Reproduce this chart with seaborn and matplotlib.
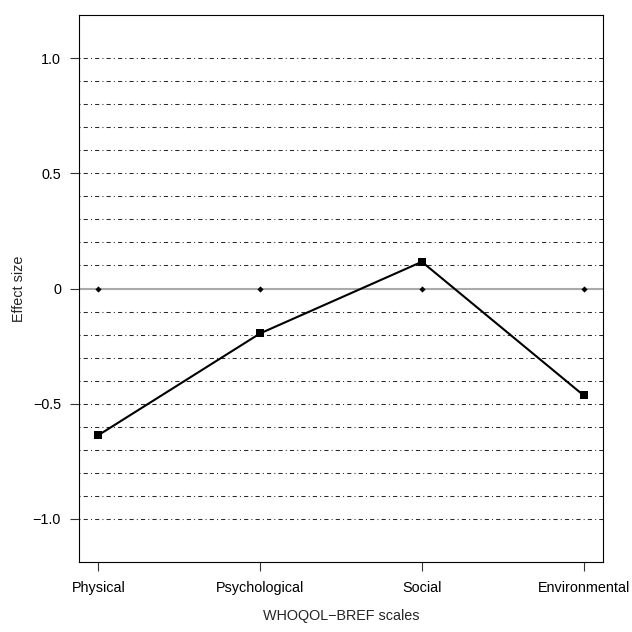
import numpy as np
import pandas as pd
import matplotlib
matplotlib.use('Agg')
import matplotlib.pyplot as plt
import seaborn as sns

# values
scales = ['Physical', 'Psychological', 'Social', 'Environmental']
effect_size = [-0.637, -0.195, 0.116, -0.464]
reference_level = [0, 0, 0, 0]
grid_levels = [-1.0, -0.9, -0.8, -0.7, -0.6, -0.5, -0.4, -0.3, -0.2, -0.1,
               0.1, 0.2, 0.3, 0.4, 0.5, 0.6, 0.7, 0.8, 0.9, 1.0]
y_ticks = [-1.0, -0.5, 0, 0.5, 1.0]
y_tick_labels = ['\u22121.0', '\u22120.5', '0', '0.5', '1.0']

sns.set_style('white')
plt.rcParams['font.family'] = ['Liberation Sans', 'DejaVu Sans']
plt.rcParams['axes.unicode_minus'] = True


def main():
    df = pd.DataFrame({
        'pos': np.arange(1, len(scales) + 1),
        'scale': scales,
        'effect': effect_size,
        'ref': reference_level,
    })

    fig = plt.figure(figsize=(6.32, 6.32), dpi=100)
    ax = fig.add_axes([79 / 632, 1 - 562 / 632, 524 / 632, 547 / 632])

    # dot-dash reference grid
    for lv in grid_levels:
        ax.axhline(lv, color='#2a2a2a', lw=0.75, linestyle=(0, (1, 3, 4, 3)), zorder=1)
    ax.axhline(0, color='#aaaaaa', lw=1.5, zorder=2)

    sns.scatterplot(data=df, x='pos', y='ref', marker='D', s=10, color='black',
                    edgecolor='black', linewidth=0, ax=ax, zorder=3)
    sns.lineplot(data=df, x='pos', y='effect', color='black', lw=1.5,
                 marker='s', markersize=6, markeredgewidth=0, ax=ax, zorder=4)

    ax.set_xlim(0.88, 4.12)
    ax.set_ylim(-1.188, 1.188)
    ax.set_xticks(df['pos'])
    ax.set_xticklabels(scales)
    ax.set_yticks(y_ticks)
    ax.set_yticklabels(y_tick_labels)

    for sp in ax.spines.values():
        sp.set_visible(True)
        sp.set_color('black')
        sp.set_linewidth(0.8)

    ax.tick_params(axis='both', which='both', direction='out', length=6.5,
                   width=0.8, color='#333333', labelsize=10.4, labelcolor='black')
    ax.tick_params(axis='x', pad=7.5, bottom=True)
    ax.tick_params(axis='y', pad=6.5, left=True)

    ax.set_xlabel('WHOQOL\u2212BREF scales', fontsize=10.4)
    ax.set_ylabel('Effect size', fontsize=10.4)
    ax.xaxis.set_label_coords(0.5, -0.086)
    ax.yaxis.set_label_coords(-0.102, 0.5)

    fig.savefig('out.png', dpi=100)
    plt.close(fig)


if __name__ == '__main__':
    main()
